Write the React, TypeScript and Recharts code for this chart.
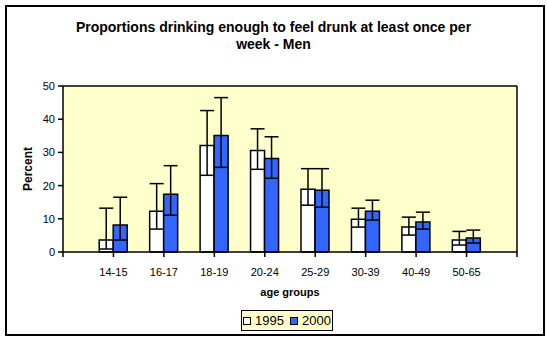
import React from 'react';
import {
  BarChart, Bar, XAxis, YAxis, CartesianGrid, ErrorBar, ReferenceLine
} from 'recharts';

const ageGroups = ['14-15', '16-17', '18-19', '20-24', '25-29', '30-39', '40-49', '50-65'];
const pct1995 = [3.6, 12.3, 32.1, 30.6, 18.9, 9.9, 7.5, 3.6];
const pct2000 = [8.1, 17.4, 35.1, 28.2, 18.6, 12.3, 9.0, 4.2];
// confidence interval limits read from the whiskers
const low1995 = [0.9, 6.9, 23.1, 24.9, 14.1, 7.5, 5.1, 2.1];
const high1995 = [13.2, 20.6, 42.6, 37.1, 25.1, 13.2, 10.5, 6.2];
const low2000 = [3.6, 11.1, 25.5, 22.2, 13.5, 9.6, 6.9, 2.7];
const high2000 = [16.5, 26.0, 46.5, 34.7, 25.1, 15.6, 12.0, 6.6];
const yTicks = [0, 10, 20, 30, 40, 50];
const xTicks = [0, 1, 2, 3, 4, 5, 6, 7, 8, 9];

const data = ageGroups.map((g, i) => ({
  pos: i + 1,
  group: g,
  v1995: pct1995[i],
  v2000: pct2000[i],
  e1995: [pct1995[i] - low1995[i], high1995[i] - pct1995[i]],
  e2000: [pct2000[i] - low2000[i], high2000[i] - pct2000[i]],
}));

const FONT = '"Liberation Sans", Arial, sans-serif';
const BLUE = '#3366FF';

export default function App() {
  return (
    <div style={{ position: 'absolute', left: 0, top: 0, width: 547, height: 340, background: '#fff', fontFamily: FONT }}>
      <div style={{
        position: 'absolute', left: 5, top: 5, width: 536, height: 327,
        border: '2px solid #000', boxSizing: 'content-box'
      }} />
      <div style={{
        position: 'absolute', left: 0, top: 19, width: 547, textAlign: 'center',
        fontSize: 14, fontWeight: 'bold', lineHeight: '17px', color: '#000'
      }}>
        Proportions drinking enough to feel drunk at least once per<br />week - Men
      </div>
      <div style={{
        position: 'absolute', left: 28, top: 169, transform: 'translate(-50%, -50%) rotate(-90deg)',
        fontSize: 12, fontWeight: 'bold', whiteSpace: 'nowrap'
      }}>
        Percent
      </div>
      <div style={{
        position: 'absolute', left: 0, top: 286, width: 580, textAlign: 'center',
        fontSize: 11, fontWeight: 'bold'
      }}>
        age groups
      </div>
      <div style={{
        position: 'absolute', left: 241, top: 310, width: 90, height: 19,
        border: '1px solid #000', background: '#FFFFCC', display: 'flex',
        alignItems: 'center', justifyContent: 'center', gap: 4, fontSize: 13
      }}>
        <span style={{ display: 'inline-block', width: 6, height: 6, border: '1px solid #000', background: '#fff' }} />
        <span>1995</span>
        <span style={{ display: 'inline-block', width: 6, height: 6, border: '1px solid #000', background: BLUE, marginLeft: 2 }} />
        <span>2000</span>
      </div>
      <div style={{ position: 'absolute', left: 0, top: 0 }}>
        <BarChart width={547} height={340} data={data} barSize={14} barGap={0}
          margin={{ top: 86, right: 30, left: 0, bottom: 58 }}>
          <CartesianGrid fill="#FFFFCC" horizontal={false} vertical={false} />
          <XAxis dataKey="pos" type="number" domain={[0, 9]} ticks={xTicks} interval={0}
            tickFormatter={(v: number) => ageGroups[v - 1] ?? ''}
            axisLine={{ stroke: '#000', strokeWidth: 1.5 }} tickLine={{ stroke: '#000', strokeWidth: 1.5 }}
            tickSize={5} tickMargin={11} height={30}
            tick={{ fill: '#000', fontSize: 11, fontFamily: FONT }} />
          <YAxis domain={[0, 50]} ticks={yTicks} width={63} interval={0}
            axisLine={{ stroke: '#000', strokeWidth: 1.5 }} tickLine={{ stroke: '#000', strokeWidth: 1.5 }}
            tickSize={5} tickMargin={3}
            tick={{ fill: '#000', fontSize: 11, fontFamily: FONT }} />
          <ReferenceLine y={50} stroke="#000" strokeWidth={1.5} />
          <ReferenceLine x={9} stroke="#000" strokeWidth={1.5} />
          <Bar dataKey="v1995" fill="#FFFFFF" stroke="#000" strokeWidth={1.5} isAnimationActive={false}>
            <ErrorBar dataKey="e1995" direction="y" width={7} stroke="#000" strokeWidth={1.5} />
          </Bar>
          <Bar dataKey="v2000" fill={BLUE} stroke="#000" strokeWidth={1.5} isAnimationActive={false}>
            <ErrorBar dataKey="e2000" direction="y" width={7} stroke="#000" strokeWidth={1.5} />
          </Bar>
        </BarChart>
      </div>
    </div>
  );
}
